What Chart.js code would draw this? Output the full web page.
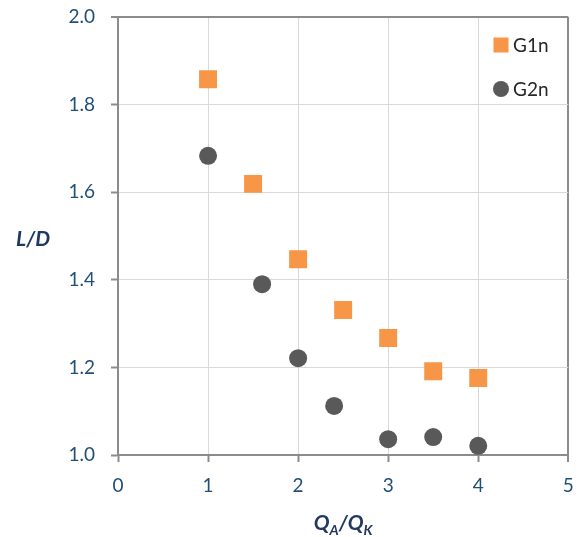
<!DOCTYPE html>
<html>
<head>
<meta charset="utf-8">
<script src="https://cdn.jsdelivr.net/npm/chart.js@4.4.1/dist/chart.umd.min.js"></script>
<style>
  html, body { margin: 0; padding: 0; background: #fff; }
  #wrap { width: 581px; height: 537px; }
</style>
</head>
<body>
<div id="wrap"><canvas id="chart"></canvas></div>
<script>
// 데이터
const g1nX = [1, 1.5, 2, 2.5, 3, 3.5, 4];
const g1nY = [1.858, 1.619, 1.447, 1.331, 1.267, 1.191, 1.176];
const g2nX = [1, 1.6, 2, 2.4, 3, 3.5, 4];
const g2nY = [1.683, 1.390, 1.221, 1.112, 1.036, 1.041, 1.021];
const seriesNames = ['G1n', 'G2n'];

const FONT = 'Lato, "Open Sans", sans-serif';
const tickColor = '#1f4e79';
const titleColor = '#1f3864';
const axisGray = '#8c8c8c';
const gridGray = '#d9d9d9';

const toPts = (xs, ys) => xs.map((x, i) => ({ x: x, y: ys[i] }));

// 축 제목 + 범례 그리기
const decorPlugin = {
  id: 'decor',
  afterDraw(chart) {
    const ctx = chart.ctx;
    const area = chart.chartArea;
    ctx.save();
    ctx.fillStyle = titleColor;
    ctx.textBaseline = 'alphabetic';

    // y 축 제목
    ctx.font = 'italic bold 21px ' + FONT;
    ctx.textAlign = 'center';
    ctx.fillText('L/D', 33, 246);

    // x 축 제목 (아래첨자)
    const big = 'italic bold 21px ' + FONT;
    const small = 'italic bold 14px ' + FONT;
    const parts = [['Q', big, 0], ['A', small, 5], ['/', big, 0], ['Q', big, 0], ['K', small, 5]];
    let total = 0;
    parts.forEach(p => { ctx.font = p[1]; total += ctx.measureText(p[0]).width; });
    let x = (area.left + area.right) / 2 - total / 2;
    ctx.textAlign = 'left';
    parts.forEach(p => {
      ctx.font = p[1];
      ctx.fillText(p[0], x, 530 + p[2]);
      x += ctx.measureText(p[0]).width;
    });

    // 범례
    ctx.font = '19px ' + FONT;
    ctx.textBaseline = 'middle';
    chart.data.datasets.forEach((ds, i) => {
      const cy = 45 + i * 44;
      const cx = 501;
      ctx.fillStyle = ds.backgroundColor;
      if (ds.pointStyle === 'rect') {
        ctx.fillRect(cx - 7.5, cy - 7.5, 15, 15);
      } else {
        ctx.beginPath();
        ctx.arc(cx, cy, 8, 0, Math.PI * 2);
        ctx.fill();
      }
      ctx.fillStyle = '#262626';
      ctx.fillText(ds.label, 513, cy + 1);
    });
    ctx.restore();
  }
};

new Chart(document.getElementById('chart'), {
  type: 'scatter',
  data: {
    datasets: [{
      label: seriesNames[0],
      data: toPts(g1nX, g1nY),
      pointStyle: 'rect',
      pointRadius: 12.7,
      pointHoverRadius: 12.7,
      backgroundColor: '#f79646',
      borderWidth: 0
    }, {
      label: seriesNames[1],
      data: toPts(g2nX, g2nY),
      pointStyle: 'circle',
      pointRadius: 9,
      pointHoverRadius: 9,
      backgroundColor: '#595959',
      borderWidth: 0
    }]
  },
  options: {
    responsive: true,
    maintainAspectRatio: false,
    animation: false,
    layout: { padding: { top: 17, right: 12, left: 0, bottom: 0 } },
    plugins: {
      legend: { display: false },
      tooltip: { enabled: false }
    },
    scales: {
      x: {
        type: 'linear',
        min: 0,
        max: 5,
        afterFit(scale) {
          scale.height = 82;
          scale.paddingLeft = 0;
          scale.paddingRight = 0;
        },
        border: { color: axisGray, width: 2 },
        grid: {
          color: c => (c.tick && c.tick.value === 5) ? axisGray : gridGray,
          lineWidth: c => (c.tick && c.tick.value === 5) ? 2 : 1,
          tickColor: axisGray,
          tickLength: 7,
          tickWidth: 2
        },
        ticks: {
          stepSize: 1,
          color: tickColor,
          padding: 12,
          font: { family: FONT, size: 19 }
        }
      },
      y: {
        min: 1.0,
        max: 2.0,
        afterFit(scale) {
          scale.width = 118;
          scale.paddingTop = 0;
          scale.paddingBottom = 0;
        },
        border: { color: axisGray, width: 2 },
        grid: {
          color: c => (c.tick && Math.abs(c.tick.value - 2) < 1e-9) ? axisGray : gridGray,
          lineWidth: c => (c.tick && Math.abs(c.tick.value - 2) < 1e-9) ? 2 : 1,
          tickColor: axisGray,
          tickLength: 7,
          tickWidth: 2
        },
        ticks: {
          stepSize: 0.2,
          color: tickColor,
          padding: 16,
          font: { family: FONT, size: 19 },
          callback: v => Number(v).toFixed(1)
        }
      }
    }
  },
  plugins: [decorPlugin]
});
</script>
</body>
</html>
